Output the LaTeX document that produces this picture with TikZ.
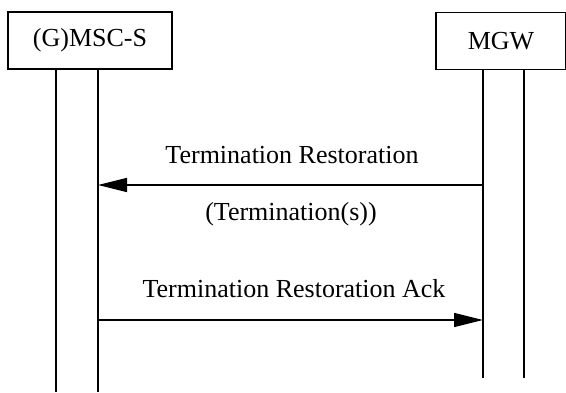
\documentclass[tikz,border=0pt]{standalone}
\usepackage{fontspec}
\setmainfont{Liberation Serif}
\usetikzlibrary{arrows.meta}
\begin{document}
\begin{tikzpicture}[x=1pt,y=-1pt,
  ent/.style={draw,line width=1.5pt,minimum height=57pt,inner sep=0pt,font=\fontsize{26}{31}\selectfont},
  life/.style={line width=1.5pt},
  msg/.style={line width=1.5pt,-{Triangle[length=29pt,width=14pt]}},
  lbl/.style={font=\fontsize{26}{31}\selectfont,inner sep=0pt}]
\useasboundingbox (0,0) rectangle (566,392);
\node[ent,minimum width=164pt] (msc) at (90,40.5) {(G)MSC-S};
\node[ent,minimum width=130pt] (mgw) at (501,41) {MGW};
\coordinate (l1t) at (56,69.5); \coordinate (l1b) at (56,392);
\coordinate (l2t) at (98,69.5); \coordinate (l2b) at (98,392);
\coordinate (r1t) at (483,70); \coordinate (r1b) at (483,378);
\coordinate (r2t) at (524,70); \coordinate (r2b) at (524,378);
\draw[life] (l1t) -- (l1b);
\draw[life] (l2t) -- (l2b);
\draw[life] (r1t) -- (r1b);
\draw[life] (r2t) -- (r2b);
\coordinate (a1s) at (483,185); \coordinate (a1e) at (98,185);
\coordinate (a2s) at (98,320); \coordinate (a2e) at (483,320);
\draw[msg] (a1s) -- (a1e);
\draw[msg] (a2s) -- (a2e);
\node[lbl] (t1) at (292,155) {Termination Restoration};
\node[lbl] (t2) at (291,214) {(Termination(s))};
\node[lbl] (t3) at (294,289) {Termination Restoration Ack};
\end{tikzpicture}
\end{document}
